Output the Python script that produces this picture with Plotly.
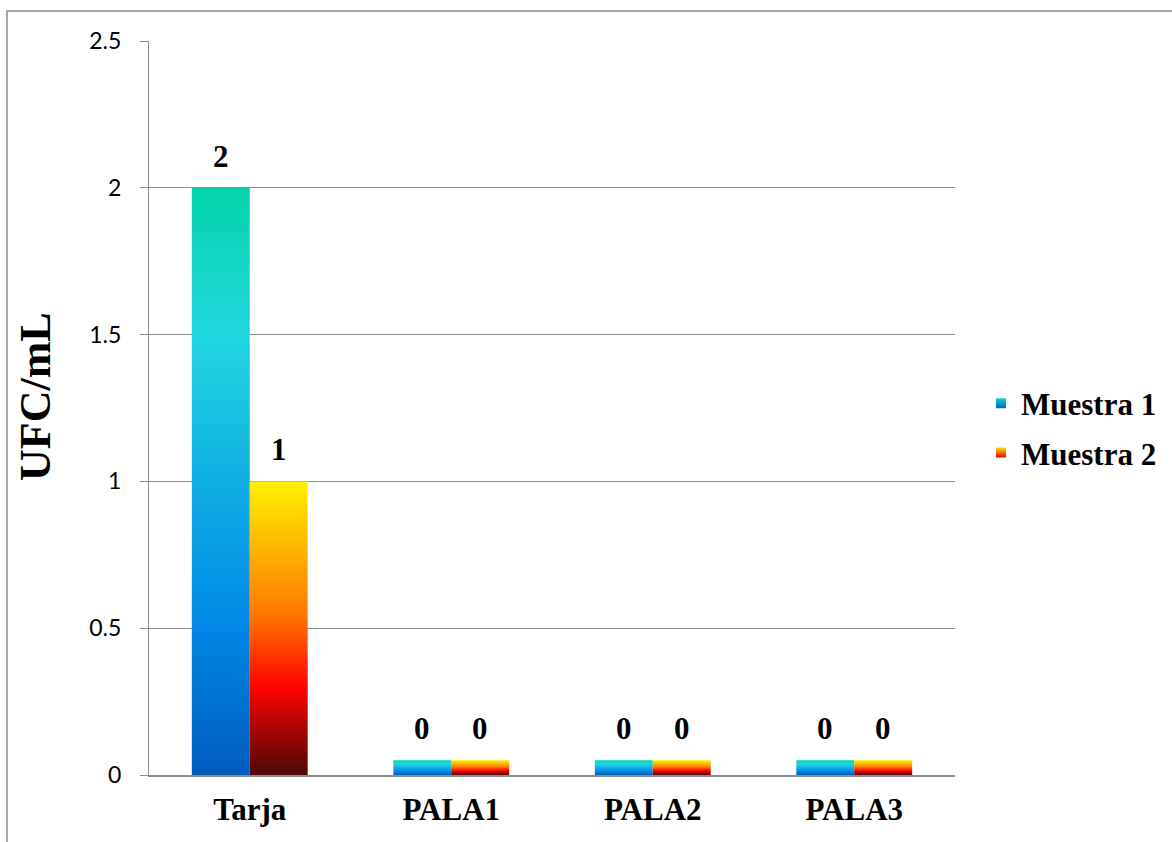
import plotly.graph_objects as go

# ---- data -------------------------------------------------------------
categories = ["Tarja", "PALA1", "PALA2", "PALA3"]
series_names = ["Muestra 1", "Muestra 2"]
muestra_1 = [2, 0.05, 0.05, 0.05]
muestra_2 = [1, 0.05, 0.05, 0.05]
y_tick_values = [0, 0.5, 1, 1.5, 2, 2.5]
y_tick_labels = ["0", "0.5", "1", "1.5", "2", "2.5"]

# ---- styling ----------------------------------------------------------
# Office-style preset gradients, listed bottom (0) to top (1)
OCEAN = [[0, "#005CBF"], [0.25, "#0087E6"], [0.75, "#21D6E0"], [1, "#03D4A8"]]
FIRE = [[0, "#4D0808"], [0.30, "#FF0300"], [0.55, "#FF7A00"], [1, "#FFF200"]]
LEGEND_SWATCH = [("#12D5CC", "#0068D0"), ("#FFE800", "#E80000")]
GRADIENTS = [OCEAN, FIRE]
GRAY = "#8C8C8C"
SERIF = "Liberation Serif"
BAR_GAP = 0.425                     # fraction of a category slot left empty
W, H = 1172, 842
M_L, M_R, M_T, M_B = 149, 217, 41, 67

series_values = [muestra_1, muestra_2]
n_series = len(series_values)
group_w = 1 - BAR_GAP
bar_w = group_w / n_series

plot_w = W - M_L - M_R
plot_h = H - M_T - M_B

fig = go.Figure()
annotations = []

for s, (name, values) in enumerate(zip(series_names, series_values)):
    for i, v in enumerate(values):
        x0 = i - group_w / 2 + s * bar_w
        x1 = x0 + bar_w
        # each bar is a filled rectangle so it can carry its own vertical gradient
        fig.add_trace(go.Scatter(
            x=[x0, x1, x1, x0, x0],
            y=[0, 0, v, v, 0],
            mode="none",
            fill="toself",
            fillgradient=dict(type="vertical", colorscale=GRADIENTS[s]),
            name=name,
            legendgroup=name,
            showlegend=False,
            hoverinfo="skip",
        ))
        annotations.append(dict(
            x=(x0 + x1) / 2, y=v, xref="x", yref="y",
            text=f"{v:.0f}", showarrow=False,
            yanchor="bottom", yshift=12,
            font=dict(family=SERIF, size=31, color="black", weight="bold"),
        ))
    # legend entry: small square with a vertical gradient
    top, bottom = LEGEND_SWATCH[s]
    fig.add_trace(go.Scatter(
        x=[None], y=[None], mode="markers", name=name, legendgroup=name,
        marker=dict(symbol="square", size=10, color=top,
                    gradient=dict(type="vertical", color=bottom),
                    line=dict(width=0)),
    ))

# y-axis title, rotated
annotations.append(dict(
    text="UFC/mL", textangle=-90, showarrow=False,
    xref="paper", yref="paper",
    x=(36 - M_L) / plot_w, y=(H - M_B - 397) / plot_h,
    xanchor="center", yanchor="middle",
    font=dict(family=SERIF, size=44, color="black", weight="bold"),
))

# outer chart frame
frame = dict(
    type="rect", xref="paper", yref="paper", layer="above",
    x0=(7 - M_L) / plot_w, x1=(W + 20 - M_L) / plot_w,
    y0=-(M_B + 20) / plot_h, y1=(H - M_B - 11) / plot_h,
    line=dict(color=GRAY, width=1.5), fillcolor="rgba(0,0,0,0)",
)

fig.update_layout(
    width=W, height=H,
    margin=dict(l=M_L, r=M_R, t=M_T, b=M_B, pad=0, autoexpand=False),
    paper_bgcolor="white", plot_bgcolor="white",
    showlegend=True,
    legend=dict(
        x=(981 - M_L) / plot_w, xanchor="left",
        y=(H - M_B - 428) / plot_h, yanchor="middle",
        font=dict(family=SERIF, size=31, color="black", weight="bold"),
        tracegroupgap=6, bgcolor="rgba(0,0,0,0)",
    ),
    xaxis=dict(
        range=[-0.5, len(categories) - 0.5],
        tickvals=list(range(len(categories))), ticktext=categories,
        showgrid=False, zeroline=False, ticks="",
        showline=True, linecolor=GRAY, linewidth=1.5,
        ticklabelstandoff=6,
        tickfont=dict(family=SERIF, size=31, color="black", weight="bold"),
        fixedrange=True,
    ),
    yaxis=dict(
        range=[0, 2.5], tickvals=y_tick_values, ticktext=y_tick_labels,
        showgrid=True, gridcolor=GRAY, gridwidth=1.3,
        zeroline=False, showline=True, linecolor=GRAY, linewidth=1.3,
        ticks="outside", ticklen=8, tickcolor=GRAY, tickwidth=1.3,
        ticklabelstandoff=14,
        tickfont=dict(family="Lato", size=23, color="black"),
        fixedrange=True,
    ),
    annotations=annotations,
    shapes=[frame],
)

fig.write_html("out.html")
